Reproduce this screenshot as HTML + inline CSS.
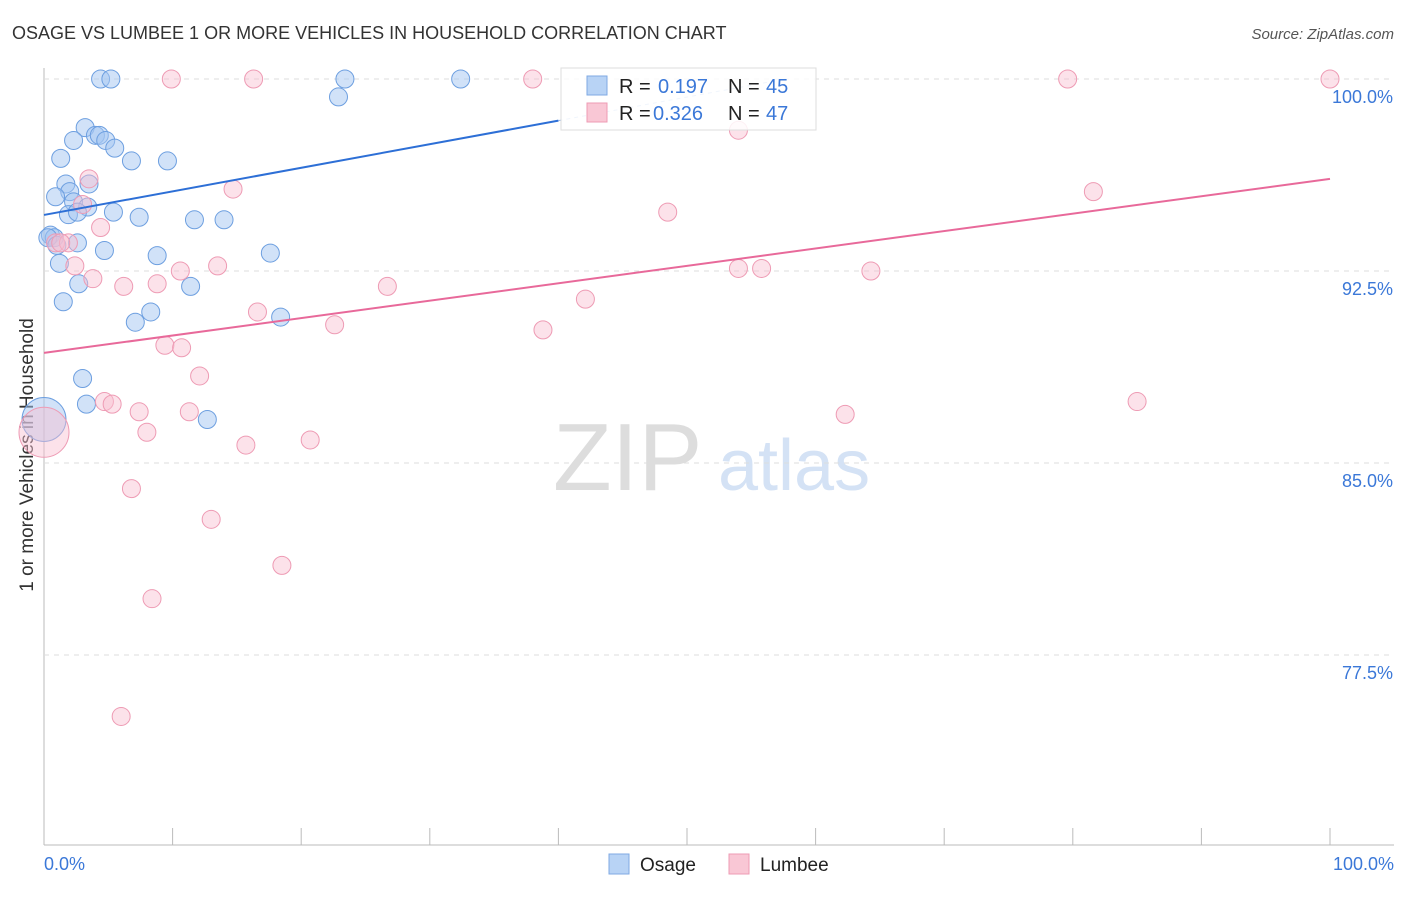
<!DOCTYPE html>
<html><head><meta charset="utf-8"><style>
body{margin:0;background:#fff;font-family:"Liberation Sans",sans-serif}
svg text{font-family:"Liberation Sans",sans-serif}
</style></head><body>
<svg id="c" width="1406" height="892">
<defs><clipPath id="plot"><rect x="0" y="79" width="1406" height="770"/></clipPath></defs>
<text x="12" y="39" font-size="18" fill="#333">OSAGE VS LUMBEE 1 OR MORE VEHICLES IN HOUSEHOLD CORRELATION CHART</text>
<text x="1394" y="39" font-size="15" fill="#555" text-anchor="end" font-style="italic">Source: ZipAtlas.com</text>
<text x="33" y="455" font-size="19" fill="#333" text-anchor="middle" transform="rotate(-90 33 455)">1 or more Vehicles in Household</text>
<text x="553" y="490" font-size="96" fill="#ddd" font-family="Liberation Serif">ZIP</text>
<text x="718" y="490" font-size="72" fill="#d4e2f5">atlas</text>
<g id="grid"></g><g id="pts"></g><g id="lines" clip-path="url(#plot)"></g>
<g>
<rect x="561" y="68" width="255" height="62" fill="rgba(255,255,255,0.85)" stroke="#ddd"/>
<rect x="587" y="76" width="20" height="19" fill="#b8d3f5" stroke="#7fa9e3"/>
<rect x="587" y="103" width="20" height="19" fill="#f9c7d5" stroke="#ee9bb4"/>
<text x="619" y="93" font-size="20" fill="#222">R =</text>
<text x="658" y="93" font-size="20" fill="#3b78d8">0.197</text>
<text x="728" y="93" font-size="20" fill="#222">N =</text>
<text x="766" y="93" font-size="20" fill="#3b78d8">45</text>
<text x="619" y="120" font-size="20" fill="#222">R =</text>
<text x="653" y="120" font-size="20" fill="#3b78d8">0.326</text>
<text x="728" y="120" font-size="20" fill="#222">N =</text>
<text x="766" y="120" font-size="20" fill="#3b78d8">47</text>
</g>
<g>
<rect x="609" y="854" width="20" height="20" fill="#b8d3f5" stroke="#7fa9e3"/>
<text x="640" y="871" font-size="19" fill="#222">Osage</text>
<rect x="729" y="854" width="20" height="20" fill="#f9c7d5" stroke="#ee9bb4"/>
<text x="760" y="871" font-size="19" fill="#222">Lumbee</text>
</g>
</svg>
<script>
const yTicks=[100,92.5,85,77.5];
const yTickLabels=["100.0%","92.5%","85.0%","77.5%"];
const xTickLabels=["0.0%","100.0%"];
const osageX=[4.4,5.2,23.4,32.4,22.9,3.2,4.0,4.3,2.3,4.8,5.5,1.3,6.8,9.6,1.7,3.5,2.0,0.9,2.3,3.4,5.4,1.9,2.6,7.4,11.7,14.0,0.5,0.8,0.3,1.0,2.6,4.7,8.8,17.6,1.2,2.7,11.4,1.5,8.3,7.1,18.4,3.0,3.3,12.7,0];
const osageY=[100,100,100,100,99.3,98.1,97.8,97.8,97.6,97.6,97.3,96.9,96.8,96.8,95.9,95.9,95.6,95.4,95.2,95.0,94.8,94.7,94.8,94.6,94.5,94.5,93.9,93.8,93.8,93.5,93.6,93.3,93.1,93.2,92.8,92.0,91.9,91.3,90.9,90.5,90.7,88.3,87.3,86.7,86.7];
const lumbeeX=[9.9,16.3,38.0,79.6,100,54.0,14.7,81.6,3.5,3.0,48.5,4.4,0.9,1.9,1.3,2.4,13.5,10.6,3.8,8.8,6.2,26.7,54.0,55.8,64.3,42.1,16.6,22.6,38.8,9.4,10.7,12.1,4.7,5.3,7.4,11.3,8.0,62.3,85.0,15.7,20.7,6.8,13.0,18.5,8.4,6.0,0];
const lumbeeY=[100,100,100,100,100,98.0,95.7,95.6,96.1,95.1,94.8,94.2,93.6,93.6,93.6,92.7,92.7,92.5,92.2,92.0,91.9,91.9,92.6,92.6,92.5,91.4,90.9,90.4,90.2,89.6,89.5,88.4,87.4,87.3,87.0,87.0,86.2,86.9,87.4,85.7,85.9,84.0,82.8,81.0,79.7,75.1,86.2];
const osageTrend=[94.69,103.9];
const lumbeeTrend=[89.3,96.1];
const X0=44,X1=1330,Y0=79,PY=25.6;
const sx=v=>X0+(X1-X0)*v/100, sy=v=>Y0+(100-v)*PY;
const NS="http://www.w3.org/2000/svg";
function mk(t,a,p){const e=document.createElementNS(NS,t);for(const k in a)e.setAttribute(k,a[k]);p.appendChild(e);return e;}
const g=document.getElementById('grid');
mk('line',{x1:44,y1:68,x2:44,y2:845,stroke:'#bbb'},g);
mk('line',{x1:44,y1:845,x2:1394,y2:845,stroke:'#bbb'},g);
yTicks.forEach((v,i)=>{
 const l=mk('line',{x1:44,y1:sy(v),x2:1394,y2:sy(v),stroke:'#ddd','stroke-dasharray':'5,5'},g);
 
 
 const t=mk('text',{x:1393,y:sy(v)+24,'font-size':18,fill:'#3b78d8','text-anchor':'end'},g);t.textContent=yTickLabels[i];
 
 
});
for(let i=0;i<=10;i++){const x=sx(i*10);mk('line',{x1:x,y1:828,x2:x,y2:845,stroke:'#bbb'},g);}
[[0,44,'start'],[100,1394,'end']].forEach((a,i)=>{const t=mk('text',{x:a[1],y:870,'font-size':18,fill:'#3b78d8','text-anchor':a[2]},g);t.textContent=xTickLabels[i];
 
 });
const p=document.getElementById('pts');
osageX.forEach((x,i)=>{const c=mk('circle',{cx:sx(x),cy:sy(osageY[i]),r:i==44?22:9,fill:'rgba(164,198,242,0.5)',stroke:'#6d9fe0','stroke-width':1},p);
 
 });
lumbeeX.forEach((x,i)=>{const c=mk('circle',{cx:sx(x),cy:sy(lumbeeY[i]),r:i==46?25:9,fill:'rgba(248,190,208,0.45)',stroke:'#ee9bb4','stroke-width':1},p);
 
 });
const L=document.getElementById('lines');
const ox=40,oy=osageTrend[0]+(osageTrend[1]-osageTrend[0])*ox/100;
let l1=mk('line',{x1:sx(0),y1:sy(osageTrend[0]),x2:sx(ox),y2:sy(oy),stroke:'#2d6fd6','stroke-width':2},L);


let l1b=mk('line',{x1:sx(ox),y1:sy(oy),x2:sx(100),y2:sy(osageTrend[1]),stroke:'#9dbbe8','stroke-width':1,'stroke-dasharray':'4,4'},L);


let l2=mk('line',{x1:sx(0),y1:sy(lumbeeTrend[0]),x2:sx(100),y2:sy(lumbeeTrend[1]),stroke:'#e8699a','stroke-width':2},L);


</script>
</body></html>
